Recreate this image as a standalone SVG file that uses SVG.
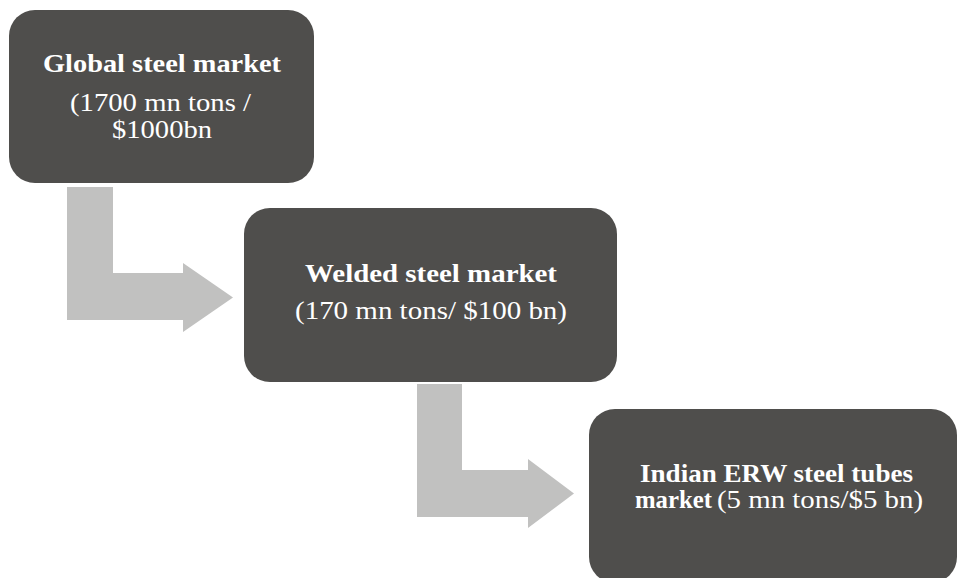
<svg xmlns="http://www.w3.org/2000/svg" width="958" height="578" viewBox="0 0 958 578">
<style>
.box{fill:#4f4e4c;}
.arrow{fill:#c1c1c0;}
.t{font-family:"Liberation Serif","Times New Roman",serif;fill:#ffffff;font-size:25px;}
.b{font-weight:bold;}
</style>
<rect width="958" height="578" fill="#ffffff"/>
<g id="connectors">
<polygon class="arrow" points="67,187 113,187 113,273 183,273 183,263 233,297.5 183,332 183,320 67,320"/>
<polygon class="arrow" points="417,384 462,384 462,470 528,470 528,459 574,493.5 528,528 528,517 417,517"/>
</g>
<g id="node-global">
<rect class="box" x="9" y="10" width="305" height="173" rx="26" ry="26"/>
<text class="t b" x="43" y="72" font-size="27" textLength="238" lengthAdjust="spacingAndGlyphs">Global steel market</text>
<text class="t" x="70" y="111" textLength="181" lengthAdjust="spacingAndGlyphs">(1700 mn tons /</text>
<text class="t" x="112" y="138" textLength="100" lengthAdjust="spacingAndGlyphs">$1000bn</text>
</g>
<g id="node-welded">
<rect class="box" x="244" y="208" width="373" height="174" rx="26" ry="26"/>
<text class="t b" x="305" y="282" textLength="252" lengthAdjust="spacingAndGlyphs">Welded steel market</text>
<text class="t" x="295" y="319" textLength="272" lengthAdjust="spacingAndGlyphs">(170 mn tons/ $100 bn)</text>
</g>
<g id="node-indian">
<rect class="box" x="589" y="409" width="368" height="174" rx="26" ry="26"/>
<text class="t b" x="640" y="482" textLength="273" lengthAdjust="spacingAndGlyphs">Indian ERW steel tubes</text>
<text class="t b" x="635" y="508" textLength="77" lengthAdjust="spacingAndGlyphs">market</text>
<text class="t" x="717" y="508" textLength="206" lengthAdjust="spacingAndGlyphs">(5 mn tons/$5 bn)</text>
</g>
</svg>
